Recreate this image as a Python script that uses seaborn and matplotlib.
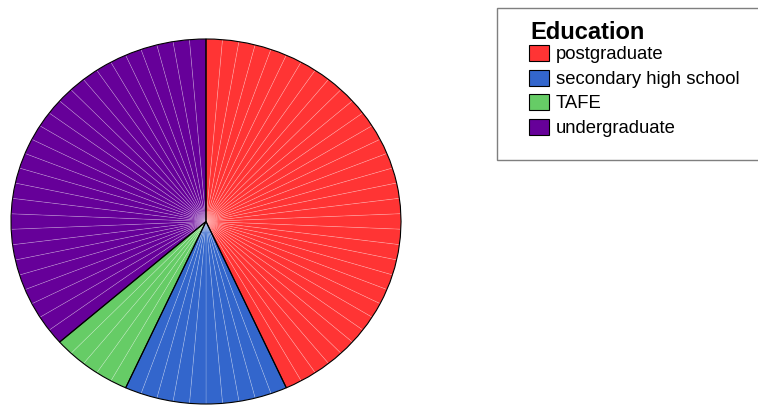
import numpy as np
import seaborn as sns
import matplotlib.pyplot as plt
from matplotlib.patches import Patch, Rectangle

# counts per category (one wedge per case, as in the original)
categories = ["postgraduate", "secondary high school", "TAFE", "undergraduate"]
counts = [32, 10, 5, 27]
palette = ["#FF3434", "#3366CC", "#66CC66", "#660099"]

sns.set_theme(style="white")
plt.rcParams["font.family"] = ["Liberation Sans", "DejaVu Sans"]
plt.rcParams["text.color"] = "black"

W, H = 758, 407
fig = plt.figure(figsize=(W / 100, H / 100), dpi=100)

# pie area in pixels: x 11..401, y 39..404
ax = fig.add_axes([11 / W, (H - 404) / H, 390 / W, 365 / H])

case_colors = np.repeat(palette, counts)
wedges, _ = ax.pie(np.ones(len(case_colors)), colors=case_colors,
                   startangle=90, counterclock=False,
                   wedgeprops=dict(linewidth=0.5))
for w in wedges:
    w.set_edgecolor((1, 1, 1, 0.25))

# outline of each category
ax.pie(counts, colors=["none"] * len(counts), startangle=90, counterclock=False,
       wedgeprops=dict(edgecolor="black", linewidth=0.8, facecolor="none"))

ax.set_aspect("auto")
ax.set_xlim(-1, 1)
ax.set_ylim(-1, 1)
ax.axis("off")

# legend frame (runs off the right edge)
fig.patches.append(Rectangle((497 / W, (H - 160) / H), 280 / W, 152 / H,
                             transform=fig.transFigure, facecolor="white",
                             edgecolor="#7f7f7f", linewidth=1.0))

fig.text(530 / W, (H - 39) / H, "Education", fontsize=17, fontweight="bold",
         color="black", ha="left", va="baseline")

handles = [Patch(facecolor=c, edgecolor="black", linewidth=0.8) for c in palette]
leg = fig.legend(handles, categories,
                 loc="upper left", bbox_to_anchor=(529 / W, (H - 45) / H),
                 frameon=False, fontsize=13.3, borderpad=0, borderaxespad=0,
                 handlelength=1.08, handleheight=0.97, handletextpad=0.38,
                 labelspacing=0.33, labelcolor="black")

fig.savefig("out.png", dpi=100)
